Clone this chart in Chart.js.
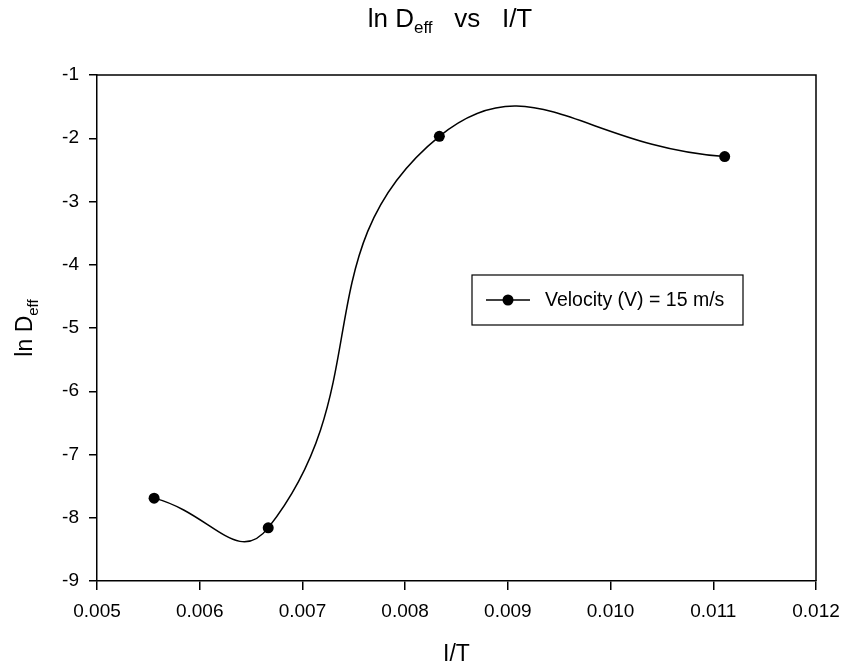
<!DOCTYPE html>
<html>
<head>
<meta charset="utf-8">
<script src="https://cdn.jsdelivr.net/npm/chart.js@4/dist/chart.umd.min.js"></script>
<style>
  html, body { margin: 0; padding: 0; background: #fff; }
  canvas { display: block; }
</style>
</head>
<body>
<canvas id="chart" width="843" height="665"></canvas>
<script>
// data
var invT = [0.005556, 0.006667, 0.008333, 0.011111];
var lnDeff = [-7.69, -8.16, -1.97, -2.29];
var xTicks = [0.005, 0.006, 0.007, 0.008, 0.009, 0.010, 0.011, 0.012];
var yTicks = [-1, -2, -3, -4, -5, -6, -7, -8, -9];
var seriesLabel = "Velocity (V) = 15 m/s";

var FONT = "'Liberation Sans', Arial, sans-serif";

// draws text with a subscript part: pieces = [[text, isSub], ...]
function drawPieces(ctx, pieces, x, y, size, subSize, subDrop) {
    pieces.forEach(function (p) {
        ctx.font = (p[1] ? subSize : size) + "px " + FONT;
        ctx.fillText(p[0], x, y + (p[1] ? subDrop : 0));
        x += ctx.measureText(p[0]).width;
    });
}
function piecesWidth(ctx, pieces, size, subSize) {
    var w = 0;
    pieces.forEach(function (p) {
        ctx.font = (p[1] ? subSize : size) + "px " + FONT;
        w += ctx.measureText(p[0]).width;
    });
    return w;
}

var decorations = {
    id: 'decorations',
    afterDraw: function (chart) {
        var ctx = chart.ctx;
        var area = chart.chartArea;
        ctx.save();
        ctx.fillStyle = '#000';
        ctx.strokeStyle = '#000';
        ctx.textBaseline = 'alphabetic';
        ctx.textAlign = 'left';

        // top and right frame
        ctx.lineWidth = 1.5;
        ctx.beginPath();
        ctx.moveTo(area.left, area.top);
        ctx.lineTo(area.right, area.top);
        ctx.lineTo(area.right, area.bottom);
        ctx.stroke();

        // title
        var title = [["ln D", false], ["eff", true], ["   vs   I/T", false]];
        var tw = piecesWidth(ctx, title, 26, 17);
        drawPieces(ctx, title, 450 - tw / 2, 27, 26, 17, 6);

        // x axis title
        ctx.font = "23px " + FONT;
        ctx.textAlign = 'center';
        ctx.fillText("I/T", (area.left + area.right) / 2, 661);
        ctx.textAlign = 'left';

        // y axis title (rotated)
        var ylab = [["ln D", false], ["eff", true]];
        var yw = piecesWidth(ctx, ylab, 23, 15);
        ctx.save();
        ctx.translate(32, (area.top + area.bottom) / 2 + yw / 2);
        ctx.rotate(-Math.PI / 2);
        drawPieces(ctx, ylab, 0, 0, 23, 15, 6);
        ctx.restore();

        // legend box
        ctx.lineWidth = 1.2;
        ctx.strokeRect(472, 275, 271, 50);
        ctx.lineWidth = 1.5;
        ctx.beginPath();
        ctx.moveTo(486, 300);
        ctx.lineTo(530, 300);
        ctx.stroke();
        ctx.beginPath();
        ctx.arc(508, 300, 5.5, 0, Math.PI * 2);
        ctx.fill();
        ctx.font = "19.5px " + FONT;
        ctx.textBaseline = 'middle';
        ctx.fillText(seriesLabel, 545, 301);
        ctx.restore();
    }
};

var ctx = document.getElementById("chart");

var chartGraph = new Chart(ctx, {
    type: 'scatter',
    data: {
        datasets: [{
            label: seriesLabel,
            data: invT.map(function (x, i) { return { x: x, y: lnDeff[i] }; }),
            showLine: true,
            tension: 0.5,
            borderColor: '#000',
            borderWidth: 1.5,
            backgroundColor: '#000',
            pointBackgroundColor: '#000',
            pointBorderColor: '#000',
            pointRadius: 5.5,
            pointBorderWidth: 0,
            clip: false
        }]
    },
    options: {
        responsive: false,
        animation: false,
        devicePixelRatio: 1,
        elements: {
            line: { capBezierPoints: false }
        },
        layout: {
            padding: { top: 75, right: 27, left: 0, bottom: 0 }
        },
        plugins: {
            legend: { display: false },
            title: { display: false },
            tooltip: { enabled: false }
        },
        scales: {
            x: {
                type: 'linear',
                min: 0.005,
                max: 0.012,
                afterFit: function (scale) {
                    scale.height = 84;
                    scale.paddingLeft = 0;
                    scale.paddingRight = 0;
                },
                afterBuildTicks: function (scale) {
                    scale.ticks = xTicks.map(function (v) { return { value: v }; });
                },
                ticks: {
                    color: '#000',
                    font: { family: FONT, size: 19 },
                    padding: 10,
                    maxRotation: 0,
                    autoSkip: false,
                    callback: function (v) { return Number(v).toFixed(3); }
                },
                grid: {
                    drawOnChartArea: false,
                    color: '#000',
                    lineWidth: 1.5,
                    tickLength: 9
                },
                border: { display: true, color: '#000', width: 1.5 }
            },
            y: {
                type: 'linear',
                min: -9,
                max: -1,
                afterFit: function (scale) {
                    scale.width = 97;
                    scale.paddingTop = 0;
                    scale.paddingBottom = 0;
                },
                afterBuildTicks: function (scale) {
                    scale.ticks = yTicks.map(function (v) { return { value: v }; });
                },
                ticks: {
                    color: '#000',
                    font: { family: FONT, size: 19 },
                    padding: 10,
                    autoSkip: false
                },
                grid: {
                    drawOnChartArea: false,
                    color: '#000',
                    lineWidth: 1.5,
                    tickLength: 8
                },
                border: { display: true, color: '#000', width: 1.5 }
            }
        }
    },
    plugins: [decorations]
});
</script>
</body>
</html>
